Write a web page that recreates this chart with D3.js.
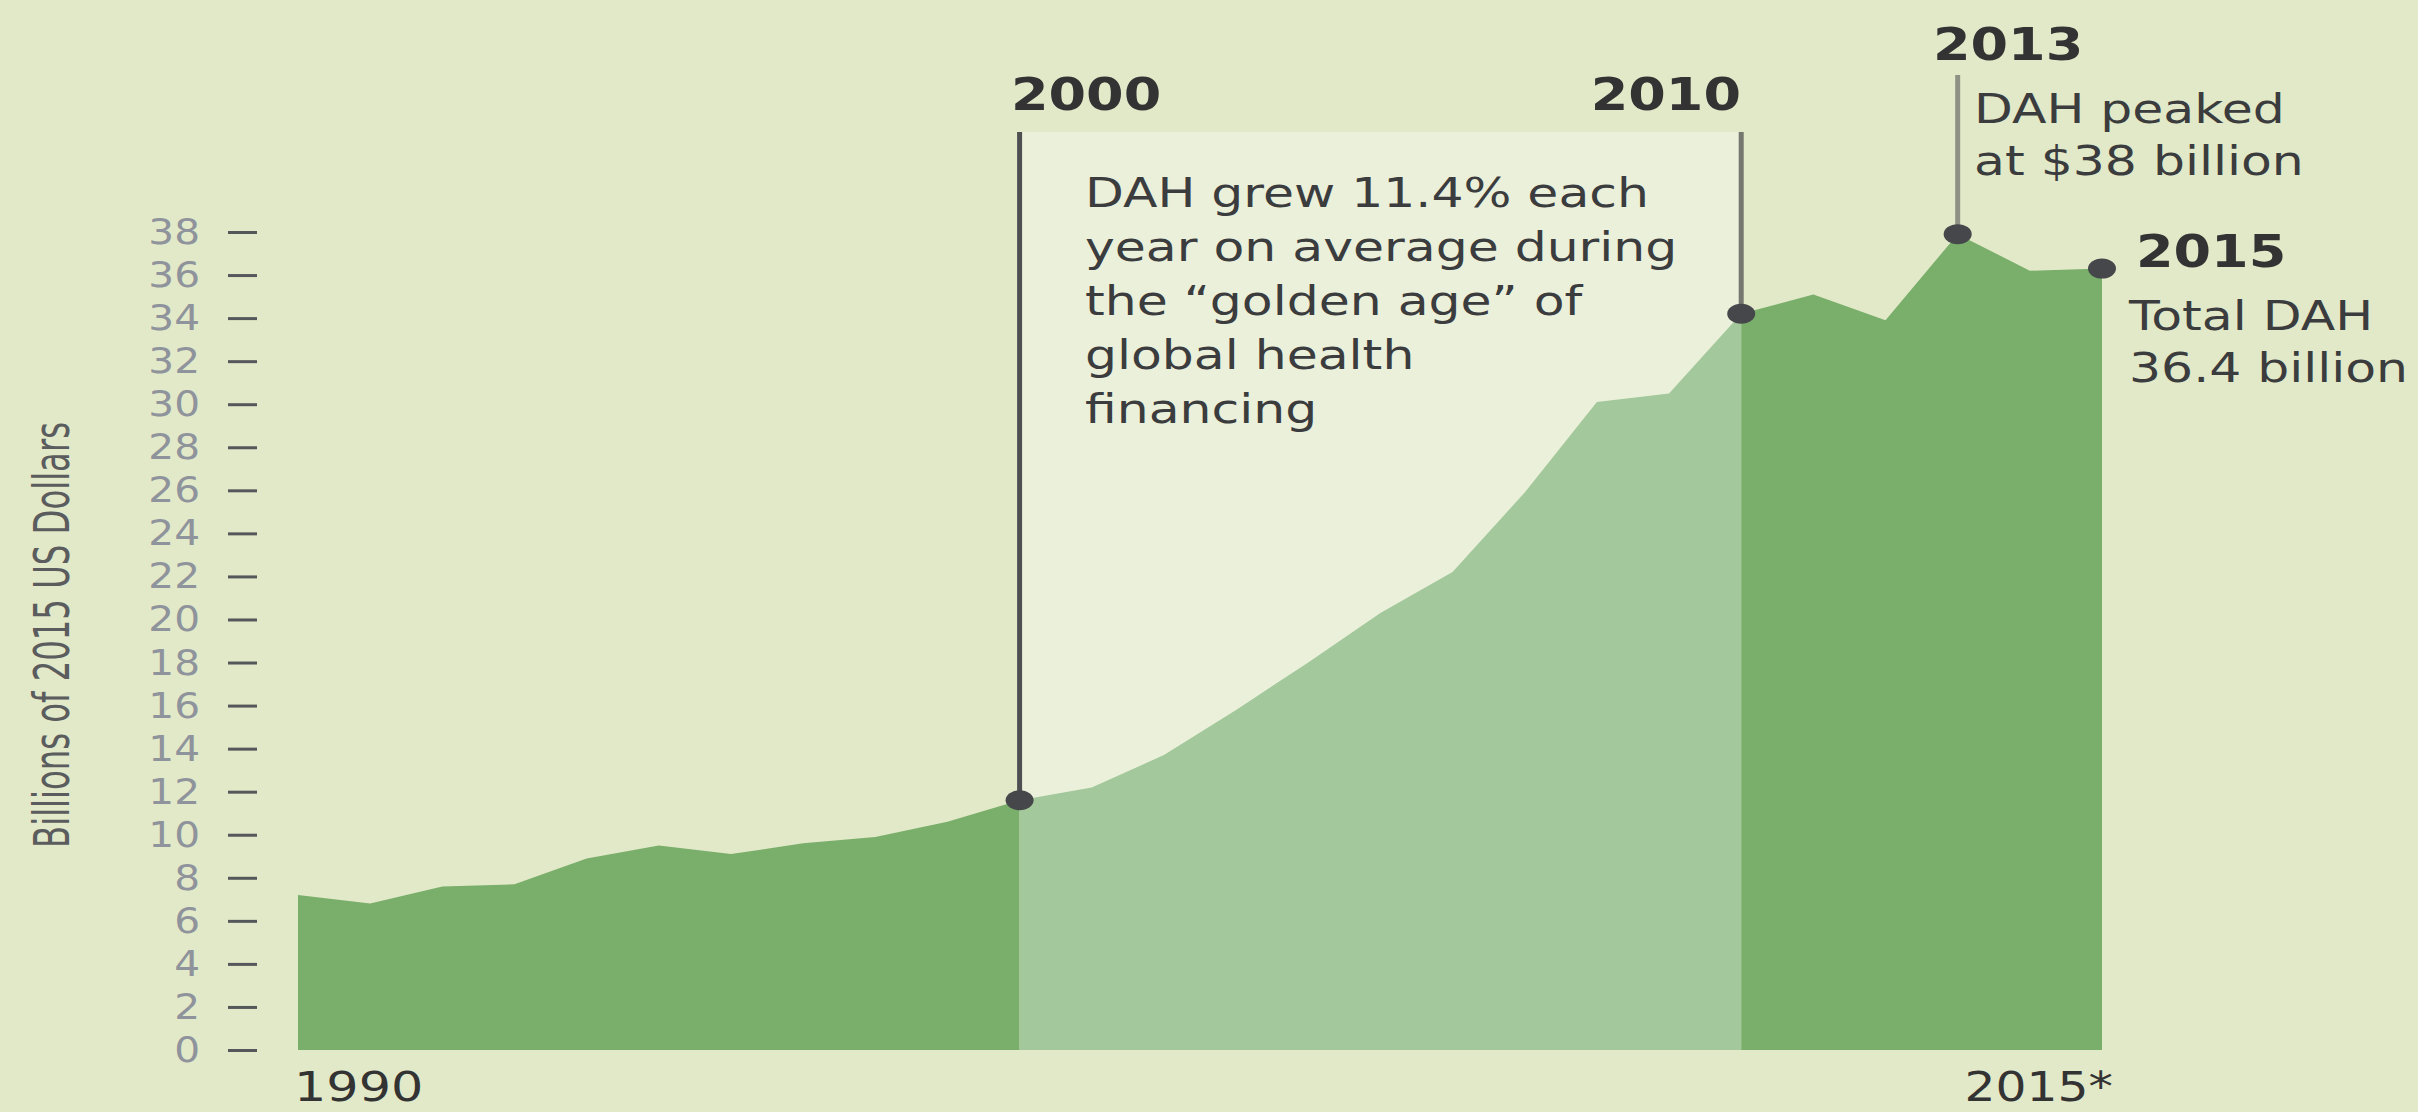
<!DOCTYPE html>
<meta charset="utf-8">
<title>Development assistance for health, 1990-2015</title>
<style>
  body { margin: 0; background: #e2e9c8; }
  svg { display: block; }
  text { font-family: "DejaVu Sans", sans-serif; }
  .tick text { fill: #8f939c; font-size: 36px; }
  .tick line { stroke: #55585a; stroke-width: 3px; }
</style>
<script src="https://d3js.org/d3.v7.min.js"></script>
<div id="chart"></div>
<script>

// values, billions of 2015 US$
var years = [1990, 1991, 1992, 1993, 1994, 1995, 1996, 1997, 1998, 1999, 2000, 2001, 2002,
             2003, 2004, 2005, 2006, 2007, 2008, 2009, 2010, 2011, 2012, 2013, 2014, 2015];
var dah = [7.2, 6.8, 7.6, 7.7, 8.9, 9.5, 9.1, 9.6, 9.9, 10.6, 11.6, 12.2, 13.7,
           15.8, 18.0, 20.3, 22.2, 25.9, 30.1, 30.5, 34.2, 35.1, 33.9, 37.9, 36.2, 36.3];
var yTicks = [0, 2, 4, 6, 8, 10, 12, 14, 16, 18, 20, 22, 24, 26, 28, 30, 32, 34, 36, 38];
var periods = [[1990, 2000], [2000, 2010], [2010, 2015]];
var xLabels = ["1990", "2015*"];
var goldenNote = ["DAH grew 11.4% each", "year on average during", "the \u201cgolden age\u201d of",
                  "global health", "financing"];
var peakNote = ["DAH peaked", "at $38 billion"];
var totalNote = ["Total DAH", "36.4 billion"];

var W = 2418, H = 1112;
var data = years.map(function(y, i) { return {year: y, v: dah[i]}; });
function val(y) { return dah[years.indexOf(y)]; }

var svg = d3.select("#chart").append("svg")
    .attr("width", W)
    .attr("height", H);

var x = d3.scaleLinear().domain([1990, 2015]).range([298, 2102]);
var y = d3.scaleLinear().domain([0, 38]).range([1050, 232]);

svg.append("rect").attr("width", W).attr("height", H).attr("fill", "#e2e9c8");

// lighter panel behind the golden age
svg.append("rect")
    .attr("x", x(2000))
    .attr("y", 132)
    .attr("width", x(2010) - x(2000))
    .attr("height", y(0) - 132)
    .attr("fill", "#ebf0da");

var area = d3.area()
    .x(function(d) { return x(d.year); })
    .y0(y(0))
    .y1(function(d) { return y(d.v); });

svg.selectAll("path.seg")
  .data(periods)
  .enter().append("path")
    .attr("class", "seg")
    .attr("d", function(p) {
      return area(data.filter(function(d) { return d.year >= p[0] && d.year <= p[1]; }));
    })
    .attr("fill", function(p, i) { return i == 1 ? "#a3c89b" : "#7aae6b"; });

// y axis
var yAxis = svg.append("g")
    .attr("transform", "translate(257,0)")
    .call(d3.axisLeft(y).tickValues(yTicks).tickSizeInner(29).tickSizeOuter(0).tickPadding(28));
yAxis.select(".domain").remove();
yAxis.selectAll(".tick text")
    .attr("x", -57 / 1.13)
    .attr("transform", "scale(1.13,1)")
    .attr("font-family", null);

svg.append("text")
    .attr("transform", "translate(69,635) rotate(-90)")
    .attr("text-anchor", "middle")
    .attr("textLength", 426)
    .attr("lengthAdjust", "spacingAndGlyphs")
    .style("font-family", "'DejaVu Sans Condensed', 'DejaVu Sans', sans-serif")
    .style("font-size", "50px")
    .style("fill", "#5a5c5e")
    .text("Billions of 2015 US Dollars");

// leader lines and dots
var leaders = [
  {yr: 2000, top: 132, col: "#4e4f51"},
  {yr: 2010, top: 132, col: "#76776f"},
  {yr: 2013, top: 75, col: "#8f9184"}
];
svg.selectAll("line.lead")
  .data(leaders)
  .enter().append("line")
    .attr("x1", function(d) { return x(d.yr); })
    .attr("x2", function(d) { return x(d.yr); })
    .attr("y1", function(d) { return d.top; })
    .attr("y2", function(d) { return y(val(d.yr)); })
    .attr("stroke", function(d) { return d.col; })
    .attr("stroke-width", 5);

svg.selectAll("ellipse.dot")
  .data([2000, 2010, 2013, 2015])
  .enter().append("ellipse")
    .attr("cx", function(d) { return x(d); })
    .attr("cy", function(d) { return y(val(d)); })
    .attr("rx", 14)
    .attr("ry", 10)
    .attr("fill", "#45474a");

// text helper, the reference type is set wide
function label(str, tx, ty, opt) {
  opt = opt || {};
  svg.append("text")
    .attr("transform", "translate(" + tx + "," + ty + ") scale(" + (opt.sx || 1.23) + ",1)")
    .attr("text-anchor", opt.anchor || "start")
    .style("font-size", (opt.size || 41) + "px")
    .style("font-weight", opt.bold ? "bold" : "normal")
    .style("fill", opt.col || "#3b3c3e")
    .text(str);
}

label("2000", 1011, 110, {bold: true, size: 45, sx: 1.2, col: "#333"});
label("2010", 1741, 110, {bold: true, size: 45, sx: 1.2, col: "#333", anchor: "end"});
label("2013", 1933, 60, {bold: true, size: 45, sx: 1.2, col: "#333"});
label("2015", 2136, 267, {bold: true, size: 45, sx: 1.2, col: "#333"});

goldenNote.forEach(function(s, i) { label(s, 1085, 207 + i * 54); });
peakNote.forEach(function(s, i) { label(s, 1974, 123 + i * 52); });
totalNote.forEach(function(s, i) { label(s, 2129, 330 + i * 52); });

label(xLabels[0], 294, 1101, {sx: 1.27, size: 40, col: "#333"});
label(xLabels[1], 2113, 1101, {sx: 1.22, size: 40, col: "#333", anchor: "end"});

</script>
